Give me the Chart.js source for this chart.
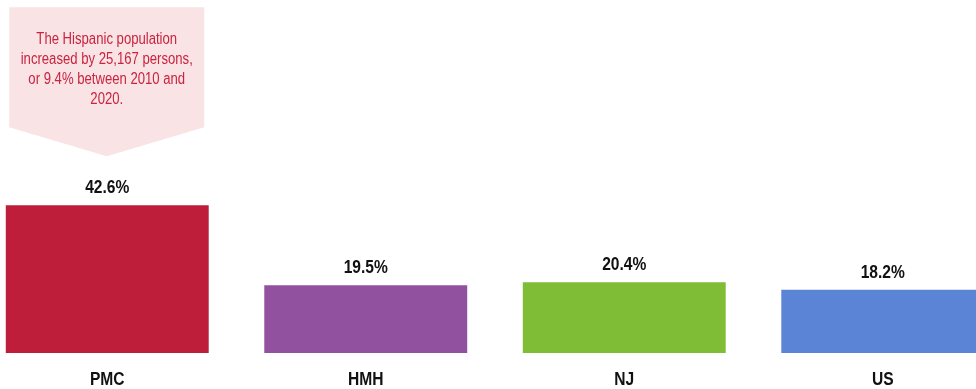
<!DOCTYPE html>
<html>
<head>
<meta charset="utf-8">
<script src="https://cdn.jsdelivr.net/npm/chart.js@4.4.1/dist/chart.umd.min.js"></script>
<style>
  html, body { margin: 0; padding: 0; background: #fff; overflow: hidden; }
  #wrap { position: absolute; left: -22px; top: 0; width: 1034px; height: 389px; }
</style>
</head>
<body>
<div id="wrap"><canvas id="chart"></canvas></div>
<script>
// Hispanic share of population by area
const areas = ["PMC", "HMH", "NJ", "US"];
const hispanicPct = [42.6, 19.5, 20.4, 18.2];
const barColors = ["#BE1E3A", "#91519E", "#80BD36", "#5B84D6"];
const calloutLines = [
  "The Hispanic population",
  "increased by 25,167 persons,",
  "or 9.4% between 2010 and",
  "2020."
];

const FONT = '"Liberation Sans", Arial, sans-serif';
const NARROW = 0.82;

// condensed text: squeeze horizontally around the anchor point
function narrowText(ctx, text, x, y) {
  ctx.save();
  ctx.translate(x, y);
  ctx.scale(NARROW, 1);
  ctx.fillText(text, 0, 0);
  ctx.restore();
}

// value labels, category labels and the pink callout over the first bar
const labelsPlugin = {
  id: "barLabels",
  afterDatasetsDraw(chart) {
    const ctx = chart.ctx;
    const bars = chart.getDatasetMeta(0).data;
    const bottom = chart.chartArea.bottom;
    ctx.save();
    ctx.fillStyle = "#111";
    ctx.font = "bold 19px " + FONT;
    ctx.textAlign = "center";
    ctx.textBaseline = "alphabetic";
    bars.forEach((bar, i) => {
      narrowText(ctx, hispanicPct[i].toFixed(1) + "%", bar.x, bar.y - 12);
      narrowText(ctx, areas[i], bar.x, bottom + 32);
    });

    // callout arrow box
    const b = bars[0];
    const tip = b.y - 49;
    const cx = b.x - 0.5;
    const half = 97.5;
    ctx.fillStyle = "#FAE3E5";
    ctx.beginPath();
    ctx.moveTo(cx - half, tip - 149);
    ctx.lineTo(cx + half, tip - 149);
    ctx.lineTo(cx + half, tip - 29);
    ctx.lineTo(cx, tip);
    ctx.lineTo(cx - half, tip - 29);
    ctx.closePath();
    ctx.fill();

    ctx.fillStyle = "#C8243F";
    ctx.font = "16px " + FONT;
    calloutLines.forEach((line, i) => {
      narrowText(ctx, line, cx, tip - 112 + i * 20);
    });
    ctx.restore();
  }
};

new Chart(document.getElementById("chart"), {
  type: "bar",
  data: {
    labels: areas,
    datasets: [{
      data: hispanicPct,
      backgroundColor: barColors,
      borderWidth: 0,
      categoryPercentage: 1,
      barPercentage: 0.785
    }]
  },
  options: {
    responsive: true,
    maintainAspectRatio: false,
    animation: false,
    layout: { padding: { top: 6, bottom: 36, left: 0, right: 0 } },
    plugins: { legend: { display: false }, tooltip: { enabled: false } },
    scales: {
      x: { display: false },
      y: { display: false, min: 0, max: 100 }
    }
  },
  plugins: [labelsPlugin]
});
</script>
</body>
</html>
